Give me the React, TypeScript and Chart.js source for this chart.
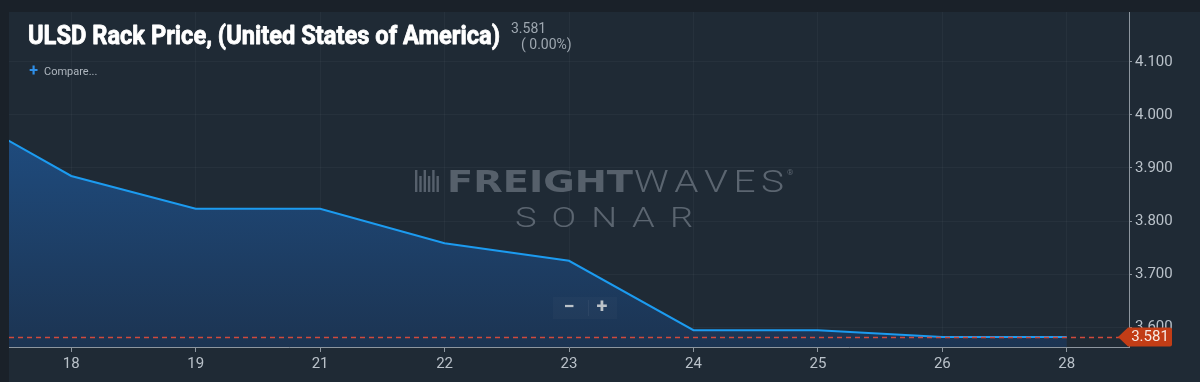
import React, { useEffect, useRef } from "react";
import { Chart, registerables } from "chart.js";

Chart.register(...registerables);

// ---- data ----
const dayLabels = ["17", "18", "19", "21", "22", "23", "24", "25", "26", "28"];
const priceValues = [4.017, 3.885, 3.823, 3.823, 3.758, 3.725, 3.594, 3.594, 3.581, 3.581];
const yTickValues = [3.6, 3.7, 3.8, 3.9, 4.0, 4.1];
const lastPrice = 3.581;
const changeText = "( 0.00%)";
const titleText = "ULSD Rack Price, (United States of America)";
const compareText = "Compare...";

const W = 1200;
const H = 382;
const OUTER_BG = "#1a2129";
const PANEL_BG = "#1f2a35";
const AXIS_COLOR = "#8d969f";
const TICK_TEXT = "#b9c1c9";
const GRID = "rgba(255,255,255,0.035)";

function drawSpaced(ctx: CanvasRenderingContext2D, text: string, x: number, y: number, width: number, sx: number) {
  const ws = text.split("").map((c) => ctx.measureText(c).width * sx);
  const total = ws.reduce((a, b) => a + b, 0);
  const gap = text.length > 1 ? (width - total) / (text.length - 1) : 0;
  let cx = x;
  text.split("").forEach((c, i) => {
    ctx.save();
    ctx.translate(cx, y);
    ctx.scale(sx, 1);
    ctx.fillText(c, 0, 0);
    ctx.restore();
    cx += ws[i] + gap;
  });
}

function drawFitted(ctx: CanvasRenderingContext2D, text: string, x: number, y: number, width: number, strokeW = 0) {
  const w = ctx.measureText(text).width;
  ctx.save();
  ctx.translate(x, y);
  ctx.scale(width / w, 1);
  ctx.fillText(text, 0, 0);
  if (strokeW > 0) {
    ctx.lineWidth = strokeW;
    ctx.strokeStyle = ctx.fillStyle as string;
    ctx.lineJoin = "round";
    ctx.strokeText(text, 0, 0);
  }
  ctx.restore();
}

const decorPlugin = {
  id: "decor",
  beforeDraw(chart: any) {
    const ctx = chart.ctx as CanvasRenderingContext2D;
    ctx.save();
    ctx.fillStyle = OUTER_BG;
    ctx.fillRect(0, 0, W, H);
    ctx.fillStyle = PANEL_BG;
    ctx.fillRect(chart.chartArea.left, chart.chartArea.top, W - chart.chartArea.left, H - chart.chartArea.top);
    ctx.restore();
  },
  beforeDatasetsDraw(chart: any) {
    const ctx = chart.ctx as CanvasRenderingContext2D;
    const { left, right } = chart.chartArea;
    const cx = (left + right) / 2;
    ctx.save();
    // icon
    ctx.fillStyle = "rgba(110,120,132,0.7)";
    const ix = cx - 154;
    for (let i = 0; i < 6; i++) {
      const h = i % 2 === 0 ? 22 : 16;
      ctx.fillRect(ix + i * 4.3, 192 - h, 2.4, h);
    }
    // FREIGHT
    ctx.fillStyle = "#56606b";
    ctx.textBaseline = "alphabetic";
    ctx.font = "bold 30px 'DejaVu Sans'";
    drawFitted(ctx, "FREIGHT", cx - 122, 192, 186);
    // WAVES
    ctx.fillStyle = "#5b6570";
    ctx.font = "300 31px Roboto";
    drawSpaced(ctx, "WAVES", cx + 65, 192, 150, 1.25);
    ctx.font = "8px Roboto";
    ctx.fillText("®", cx + 218, 175);
    // SONAR
    ctx.font = "300 28px Roboto";
    drawSpaced(ctx, "SONAR", cx - 54, 227, 178, 1.3);
    ctx.restore();
  },
  afterDatasetsDraw(chart: any) {
    const ctx = chart.ctx as CanvasRenderingContext2D;
    const { left, right } = chart.chartArea;
    const y = chart.scales.y.getPixelForValue(lastPrice);
    ctx.save();
    // dashed last price line
    ctx.strokeStyle = "#d04a3c";
    ctx.lineWidth = 1.3;
    ctx.setLineDash([5, 4]);
    ctx.beginPath();
    ctx.moveTo(left, Math.round(y) + 0.5);
    ctx.lineTo(right, Math.round(y) + 0.5);
    ctx.stroke();
    ctx.setLineDash([]);
    // price tag
    const tx = right - 11;
    ctx.fillStyle = "#c23d16";
    ctx.beginPath();
    ctx.moveTo(tx, y);
    ctx.lineTo(tx + 10, y - 9.5);
    ctx.lineTo(tx + 52, y - 9.5);
    ctx.quadraticCurveTo(tx + 54, y - 9.5, tx + 54, y - 7.5);
    ctx.lineTo(tx + 54, y + 7.5);
    ctx.quadraticCurveTo(tx + 54, y + 9.5, tx + 52, y + 9.5);
    ctx.lineTo(tx + 10, y + 9.5);
    ctx.closePath();
    ctx.fill();
    ctx.fillStyle = "#f6e9e4";
    ctx.font = "15px Roboto";
    ctx.textAlign = "center";
    ctx.textBaseline = "middle";
    ctx.fillText(lastPrice.toFixed(3), tx + 32, y + 0.5);

    // title
    ctx.textAlign = "left";
    ctx.textBaseline = "alphabetic";
    ctx.fillStyle = "#ffffff";
    ctx.font = "bold 26px Roboto";
    drawFitted(ctx, titleText, 28, 44, 472, 0.8);
    ctx.fillStyle = "#9ea7b0";
    ctx.font = "14px Roboto";
    ctx.fillText(lastPrice.toFixed(3), 511, 32.5);
    ctx.fillText(changeText, 521, 49);
    // compare
    ctx.fillStyle = "#2f8fe8";
    ctx.font = "bold 16px Roboto";
    ctx.textAlign = "center";
    ctx.textBaseline = "middle";
    ctx.fillText("+", 33.5, 72);
    ctx.textAlign = "left";
    ctx.fillStyle = "#aeb6be";
    ctx.font = "11px Roboto";
    ctx.fillText(compareText, 44, 72.5);

    // zoom buttons
    const bx = (left + right) / 2 - 16;
    ctx.fillStyle = "rgba(255,255,255,0.022)";
    ctx.fillRect(bx, 297, 64, 22);
    ctx.strokeStyle = "rgba(255,255,255,0.05)";
    ctx.beginPath();
    ctx.moveTo(bx + 35.5, 300);
    ctx.lineTo(bx + 35.5, 316);
    ctx.stroke();
    ctx.fillStyle = "#bcc3c9";
    ctx.font = "bold 20px Roboto";
    ctx.textAlign = "center";
    ctx.fillText("\u2212", bx + 16, 308);
    ctx.fillText("+", bx + 49, 308);
    ctx.restore();
  },
};

export default function App() {
  const ref = useRef<HTMLCanvasElement | null>(null);

  useEffect(() => {
    document.body.style.margin = "0";
    const canvas = ref.current;
    if (!canvas) return;
    const points = priceValues.map((v, i) => ({ x: i, y: v }));
    const chart = new Chart(canvas, {
      type: "line",
      data: {
        datasets: [
          {
            data: points,
            borderColor: "#1c9bf0",
            borderWidth: 2,
            pointRadius: 0,
            tension: 0,
            fill: "start",
            clip: 0,
            backgroundColor: (c: any) => {
              const area = c.chart.chartArea;
              if (!area) return "#1e4470";
              const g = c.chart.ctx.createLinearGradient(0, 100, 0, area.bottom);
              g.addColorStop(0, "#1f4f85");
              g.addColorStop(1, "#1c3452");
              return g;
            },
          } as any,
        ],
      },
      options: {
        animation: false,
        responsive: false,
        devicePixelRatio: 1,
        events: [],
        layout: { padding: { left: 9, top: 12, right: 0, bottom: 0 } },
        plugins: { legend: { display: false }, tooltip: { enabled: false } },
        scales: {
          x: {
            type: "linear",
            min: 0.5,
            max: dayLabels.length - 0.5,
            afterBuildTicks: (s: any) => {
              s.ticks = dayLabels.map((_, i) => ({ value: i })).filter((t) => t.value > 0.5);
            },
            afterFit: (s: any) => {
              s.height = 35;
            },
            ticks: {
              callback: (v: any) => dayLabels[v as number] ?? "",
              color: TICK_TEXT,
              font: { family: "Roboto", size: 15 },
              padding: 3,
              maxRotation: 0,
              autoSkip: false,
            },
            grid: { color: GRID, tickLength: 5, tickColor: AXIS_COLOR },
            border: { color: AXIS_COLOR, width: 1 },
          },
          y: {
            position: "right",
            min: 3.5623,
            max: 4.1943,
            afterBuildTicks: (s: any) => {
              s.ticks = yTickValues.map((v) => ({ value: v }));
            },
            afterFit: (s: any) => {
              s.width = 71;
            },
            ticks: {
              callback: (v: any) => Number(v).toFixed(3),
              color: TICK_TEXT,
              font: { family: "Roboto", size: 15 },
              padding: 3,
            },
            grid: { color: GRID, tickLength: 3, tickColor: AXIS_COLOR },
            border: { color: AXIS_COLOR, width: 1 },
          },
        },
      },
      plugins: [decorPlugin],
    } as any);
    return () => chart.destroy();
  }, []);

  return (
    <div style={{ position: "absolute", left: 0, top: 0, width: W, height: H }}>
      <canvas ref={ref} width={W} height={H} style={{ display: "block" }} />
    </div>
  );
}
